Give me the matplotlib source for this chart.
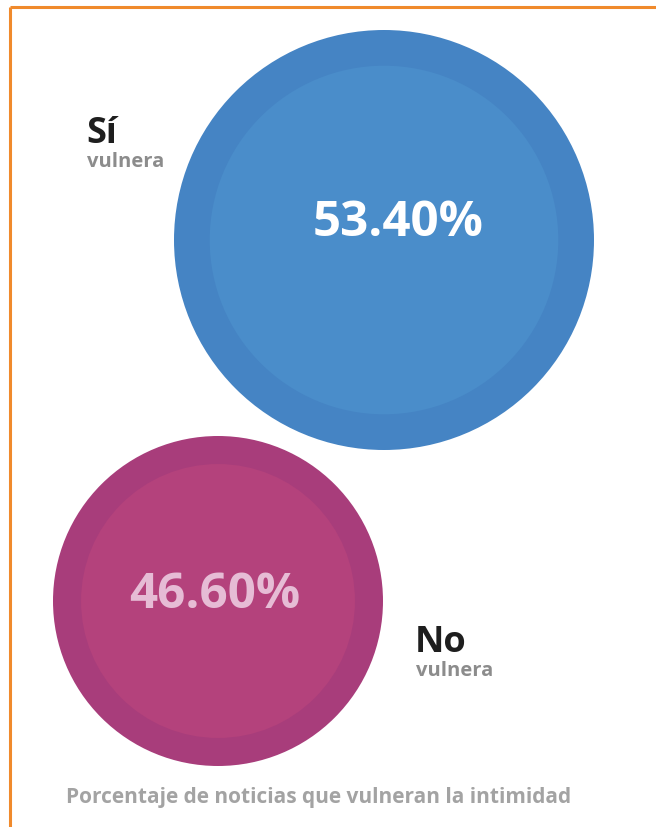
import matplotlib.pyplot as plt
from matplotlib.patches import Circle

# data
labels = ["Sí", "No"]
sublabel = "vulnera"
values = [53.40, 46.60]
footer = "Porcentaje de noticias que vulneran la intimidad"

# layout (pixel coords, y down)
W, H = 656, 827
centers = [(384, 240), (218, 601)]
radii = [210, 165]
inner_ratio = [0.83, 0.83]
outer_cols = ["#4584c4", "#a83d7b"]
inner_cols = ["#4a8dca", "#b4427c"]
value_cols = ["#ffffff", "#e6bcd5"]
value_pos = [(398, 224), (215, 596)]
label_pos = [(86, 143), (415, 652)]

plt.rcParams["font.family"] = ["Open Sans", "DejaVu Sans"]

fig = plt.figure(figsize=(W / 100, H / 100), dpi=100)
ax = fig.add_axes([0, 0, 1, 1])
ax.set_xlim(0, W)
ax.set_ylim(H, 0)
ax.set_aspect("equal")
ax.axis("off")

# orange frame (top + left only)
ax.plot([10, W + 5], [7, 7], color="#f08a2c", lw=2.2, solid_capstyle="butt")
ax.plot([10, 10], [7, H + 5], color="#f08a2c", lw=2.2, solid_capstyle="butt")

for i, v in enumerate(values):
    cx, cy = centers[i]
    ax.add_patch(Circle((cx, cy), radii[i], color=outer_cols[i], lw=0))
    ax.add_patch(Circle((cx, cy), radii[i] * inner_ratio[i], color=inner_cols[i], lw=0))
    tx, ty = value_pos[i]
    ax.text(tx, ty, f"{v:.2f}%", color=value_cols[i], fontsize=35.5,
            fontweight="bold", ha="center", va="center")
    lx, ly = label_pos[i]
    ax.text(lx, ly, labels[i], color="#1e1e1e", fontsize=26,
            fontweight="bold", ha="left", va="baseline")
    ax.text(lx + 1, ly + 24, sublabel, color="#8c8c8c", fontsize=14.5,
            fontweight="bold", ha="left", va="baseline")

ax.text(319, 797, footer, color="#a3a3a3", fontsize=15,
        fontweight="bold", ha="center", va="center")

fig.savefig("out.png", dpi=100)
